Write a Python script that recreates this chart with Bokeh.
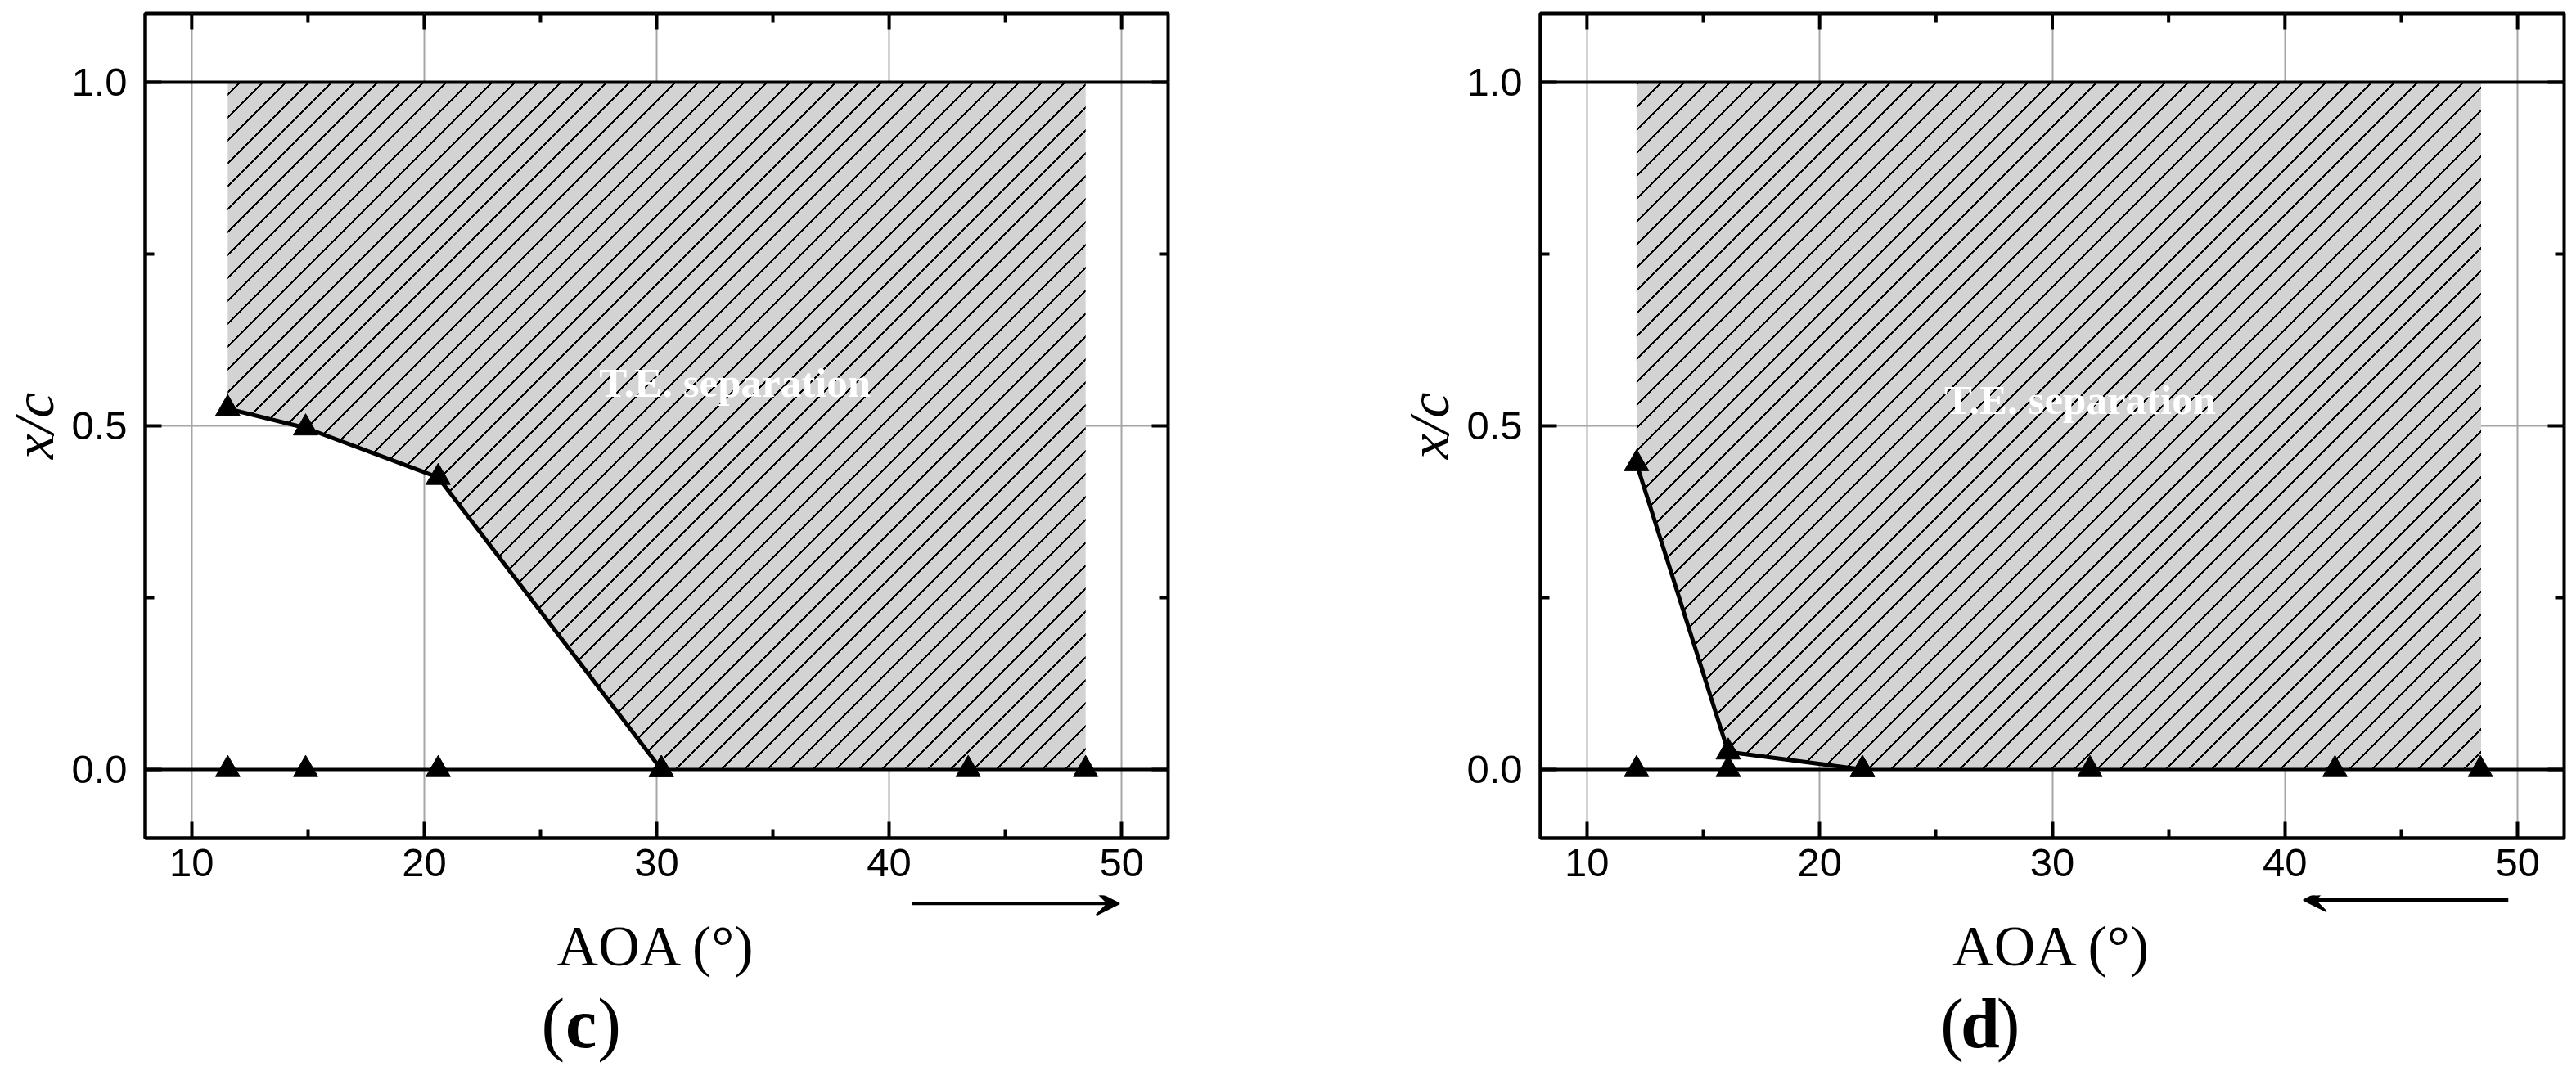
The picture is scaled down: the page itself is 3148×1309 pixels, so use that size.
import math
import zlib
import struct
import base64
from bokeh.plotting import figure
from bokeh.models import (Range1d, FixedTicker, NumeralTickFormatter,
                          Span, Label, Arrow, VeeHead, ImageURLTexture)
from bokeh.layouts import row, column
from bokeh.embed import file_html
from bokeh.resources import INLINE

# ---------------- data ----------------
x_ticks = [10, 20, 30, 40, 50]
x_minor = [15, 25, 35, 45]
y_ticks = [0.0, 0.5, 1.0]
y_minor = [0.25, 0.75]

# panel (c): AOA increasing
c_sep_aoa = [11.55, 14.9, 20.6, 30.2]
c_sep_xc = [0.525, 0.497, 0.425, 0.0]
c_base_aoa = [11.55, 14.9, 20.6, 30.2, 43.4, 48.45]
c_base_xc = [0.0, 0.0, 0.0, 0.0, 0.0, 0.0]
c_region_end = 48.45

# panel (d): AOA decreasing
d_sep_aoa = [12.13, 16.07, 21.84]
d_sep_xc = [0.445, 0.0255, 0.0]
d_base_aoa = [12.13, 16.07, 21.84, 31.62, 42.15, 48.4]
d_base_xc = [0.0, 0.0, 0.0, 0.0, 0.0, 0.0]
d_region_end = 48.43

X0, X1 = 8, 52
Y0, Y1 = -0.1, 1.1

TICK_FONT = "Liberation Sans"
SERIF = "Liberation Serif"

FRAME_H = 1008
TOP = 16
BOTTOM = 70
STRIP_H = 205
PX_PER_UNIT = FRAME_H / (Y1 - Y0)


def local_to_y(py):
    # vertical pixel (from top of the main figure) -> data y, continuing the main scale
    return Y1 - (py - TOP) / PX_PER_UNIT


# ---- 45-degree hatch texture tile (transparent PNG with "/" lines) ----
def hatch_tile_url(period=28, width=3):
    rows = []
    for yy in range(period):
        r = bytearray()
        for xx in range(period):
            d = (xx + yy) % period
            if d < width:
                r += bytes((0, 0, 0, 255))
            else:
                r += bytes((0, 0, 0, 0))
        rows.append(b"\x00" + bytes(r))
    raw = b"".join(rows)

    def chunk(t, d):
        c = struct.pack(">I", len(d)) + t + d
        return c + struct.pack(">I", zlib.crc32(t + d) & 0xFFFFFFFF)

    png = (b"\x89PNG\r\n\x1a\n"
           + chunk(b"IHDR", struct.pack(">IIBBBBB", period, period, 8, 6, 0, 0, 0))
           + chunk(b"IDAT", zlib.compress(raw))
           + chunk(b"IEND", b""))
    return "data:image/png;base64," + base64.b64encode(png).decode("ascii")


HATCH_URL = hatch_tile_url()


def make_main(sep_x, sep_y, base_x, base_y, region_end, te_x, te_y, mbl, mbr, fw, xr):
    p = figure(frame_width=fw, frame_height=FRAME_H,
               x_range=xr, y_range=Range1d(Y0, Y1),
               output_backend="svg", toolbar_location=None,
               min_border_left=mbl, min_border_right=mbr,
               min_border_top=TOP, min_border_bottom=BOTTOM,
               y_axis_label="x/c")
    p.background_fill_color = "white"
    p.border_fill_color = "white"
    p.outline_line_color = "black"
    p.outline_line_width = 4

    xt = FixedTicker(ticks=x_ticks, minor_ticks=x_minor)
    yt = FixedTicker(ticks=y_ticks, minor_ticks=y_minor)
    xa = p.below[0]
    ya = p.left[0]
    xa.ticker = xt
    ya.ticker = yt
    ya.formatter = NumeralTickFormatter(format="0.0")

    for ax in (xa, ya):
        ax.axis_line_color = "black"
        ax.axis_line_width = 4
        ax.major_tick_in = 20
        ax.major_tick_out = 0
        ax.minor_tick_in = 11
        ax.minor_tick_out = 0
        ax.major_tick_line_width = 4
        ax.minor_tick_line_width = 4
        ax.major_tick_line_color = "black"
        ax.minor_tick_line_color = "black"
        ax.major_label_text_font = TICK_FONT
        ax.major_label_text_font_size = "49px"
        ax.major_label_text_color = "black"
    xa.major_label_standoff = 13
    ya.major_label_standoff = 22
    ya.axis_label_text_font = SERIF
    ya.axis_label_text_font_size = "70px"
    ya.axis_label_text_color = "black"
    ya.axis_label_text_font_style = "italic"
    ya.axis_label_standoff = 4

    p.xgrid.ticker = xt
    p.ygrid.ticker = yt
    for g in (p.xgrid, p.ygrid):
        g.grid_line_color = "#a6a6a6"
        g.grid_line_width = 2

    # hatched T.E. separation region
    px = [sep_x[0]] + list(sep_x) + [region_end, region_end]
    py = [1.0] + list(sep_y) + [0.0, 1.0]
    p.patch(px, py, fill_color="#d3d3d3", line_color=None,
            hatch_pattern="diag45",
            hatch_extra={"diag45": ImageURLTexture(url=HATCH_URL)})

    # mirrored inward ticks on the top and right edges
    p.ray(x=x_ticks, y=[Y1] * len(x_ticks), length=20, length_units="screen",
          angle=-math.pi / 2, line_color="black", line_width=4)
    p.ray(x=x_minor, y=[Y1] * len(x_minor), length=11, length_units="screen",
          angle=-math.pi / 2, line_color="black", line_width=4)
    p.ray(x=[X1] * len(y_ticks), y=y_ticks, length=20, length_units="screen",
          angle=math.pi, line_color="black", line_width=4)
    p.ray(x=[X1] * len(y_minor), y=y_minor, length=11, length_units="screen",
          angle=math.pi, line_color="black", line_width=4)

    p.add_layout(Span(location=0.0, dimension="width", line_color="black", line_width=4))
    p.add_layout(Span(location=1.0, dimension="width", line_color="black", line_width=4))

    p.line(sep_x, sep_y, line_color="black", line_width=5)
    p.scatter(base_x, base_y, marker="triangle", size=30, color="black")
    p.scatter(sep_x, sep_y, marker="triangle", size=30, color="black")

    p.add_layout(Label(x=te_x, y=te_y, text="T.E. separation", text_font=SERIF,
                       text_font_style="bold", text_font_size="51px", text_color="white",
                       text_align="center", text_baseline="alphabetic"))
    return p


def make_strip(xr, mbl, mbr, fw, arrow_x0, arrow_x1, arrow_y, tag, tag_x):
    strip_top = TOP + FRAME_H + BOTTOM
    s = figure(frame_width=fw, frame_height=STRIP_H, x_range=xr,
               y_range=Range1d(local_to_y(strip_top + STRIP_H), local_to_y(strip_top)),
               x_axis_type=None, y_axis_type=None,
               output_backend="svg", toolbar_location=None,
               min_border_left=mbl, min_border_right=mbr,
               min_border_top=0, min_border_bottom=0)
    s.outline_line_color = None
    s.background_fill_color = "white"
    s.border_fill_color = "white"

    s.add_layout(Arrow(end=VeeHead(size=28, fill_color="black", line_color="black", line_width=2),
                       x_start=arrow_x0, y_start=arrow_y, x_end=arrow_x1, y_end=arrow_y,
                       line_color="black", line_width=4))

    s.add_layout(Label(x=(X0 + X1) / 2, y=-0.257, text="AOA (°)", text_font=SERIF,
                       text_font_size="70px", text_color="black",
                       text_align="center", text_baseline="alphabetic"))

    tag_y = -0.370
    s.add_layout(Label(x=tag_x, y=tag_y, text=tag, text_font=SERIF, text_font_style="bold",
                       text_font_size="86px", text_color="black",
                       text_align="center", text_baseline="alphabetic"))
    s.add_layout(Label(x=tag_x, y=tag_y, x_offset=-20, text="(", text_font=SERIF,
                       text_font_size="86px", text_color="black",
                       text_align="right", text_baseline="alphabetic"))
    s.add_layout(Label(x=tag_x, y=tag_y, x_offset=20, text=")", text_font=SERIF,
                       text_font_size="86px", text_color="black",
                       text_align="left", text_baseline="alphabetic"))
    return s


xr1 = Range1d(X0, X1)
xr2 = Range1d(X0, X1)
p1 = make_main(c_sep_aoa, c_sep_xc, c_base_aoa, c_base_xc, c_region_end,
               33.37, 0.562, 176, 142, 1250, xr1)
s1 = make_strip(xr1, 176, 142, 1250, 41.0, 49.9, -0.195, "c", 26.75)
p2 = make_main(d_sep_aoa, d_sep_xc, d_base_aoa, d_base_xc, d_region_end,
               31.2, 0.538, 313, 8, 1251, xr2)
s2 = make_strip(xr2, 313, 8, 1251, 49.6, 40.8, -0.19, "d", 26.9)

layout = row(column(p1, s1), column(p2, s2))
open("out.html", "w").write(file_html(layout, INLINE))
